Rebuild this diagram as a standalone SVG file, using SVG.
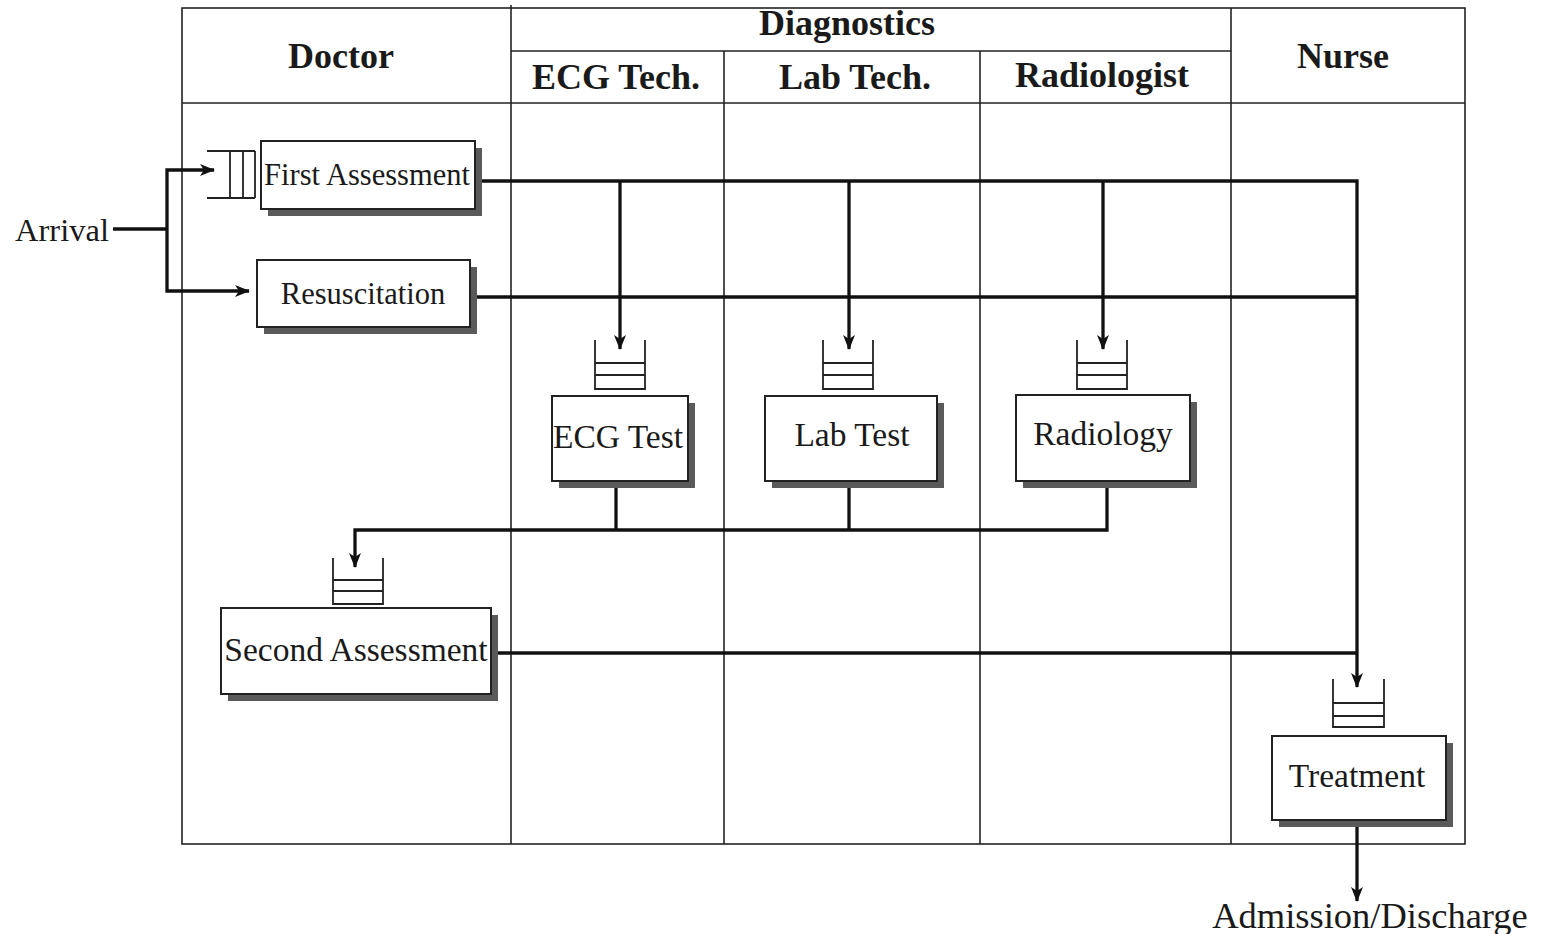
<svg xmlns="http://www.w3.org/2000/svg" width="1542" height="934" viewBox="0 0 1542 934">
<style>
.grid{stroke:#222;stroke-width:1.6;fill:none}
.hdr{font-family:"Liberation Serif",serif;font-weight:bold;font-size:36px;fill:#1a1a1a;text-anchor:middle}
.lbl{font-family:"Liberation Serif",serif;font-size:33.5px;fill:#1a1a1a;text-anchor:middle}
.sm{font-size:30.5px}
.box{fill:#fff;stroke:#222;stroke-width:2}
.shd{fill:#5a5a5a}
.q{stroke:#222;stroke-width:1.8;fill:none}
.c{stroke:#111;stroke-width:3.3;fill:none}
.ca{stroke:#111;stroke-width:3.3;fill:none;marker-end:url(#ah)}
</style>
<defs>
<marker id="ah" viewBox="0 0 15 12" refX="14" refY="6" markerWidth="15" markerHeight="12" markerUnits="userSpaceOnUse" orient="auto">
<path d="M0,0 L15,6 L0,12 L4,6 Z" fill="#111"/>
</marker>
</defs>
<rect width="1542" height="934" fill="#fff"/>
<g id="swimlanes">
<rect class="grid" x="182" y="8" width="1283" height="836"/>
<line class="grid" x1="182" y1="103" x2="1465" y2="103"/>
<line class="grid" x1="511" y1="51" x2="1231" y2="51"/>
<line class="grid" x1="511" y1="5" x2="511" y2="844"/>
<line class="grid" x1="724" y1="51" x2="724" y2="844"/>
<line class="grid" x1="980" y1="51" x2="980" y2="844"/>
<line class="grid" x1="1231" y1="8" x2="1231" y2="844"/>
<text class="hdr" x="341" y="68">Doctor</text>
<text class="hdr" x="847" y="35">Diagnostics</text>
<text class="hdr" x="616" y="89">ECG Tech.</text>
<text class="hdr" x="855" y="89">Lab Tech.</text>
<text class="hdr" x="1102" y="87">Radiologist</text>
<text class="hdr" x="1343" y="68">Nurse</text>
</g>
<g id="connectors">
<polyline class="c" points="113,229 167,229"/>
<polyline class="ca" points="167,229 167,170 214,170"/>
<polyline class="ca" points="167,229 167,291 249,291"/>
<polyline class="ca" points="475,181 1357,181 1357,687"/>
<polyline class="c" points="470,297 1357,297"/>
<polyline class="ca" points="620,181 620,349"/>
<polyline class="ca" points="849,181 849,349"/>
<polyline class="ca" points="1103,181 1103,349"/>
<polyline class="c" points="616,481 616,530"/>
<polyline class="c" points="849,481 849,530"/>
<polyline class="ca" points="1107,481 1107,530 355,530 355,567"/>
<polyline class="c" points="491,653 1357,653"/>
<polyline class="ca" points="1357,820 1357,901"/>
</g>
<g id="arrival"><text class="lbl" x="62" y="241" style="font-size:32.5px">Arrival</text></g>
<g id="queue-first">
<path class="q" d="M207,151 H255 M207,198 H255 M230,151 V198 M243,151 V198 M255,151 V198"/>
</g>
<g id="first-assessment">
<rect class="shd" x="268" y="148" width="214" height="68"/>
<rect class="box" x="261" y="141" width="214" height="68"/>
<text class="lbl sm" x="367" y="185">First Assessment</text>
</g>
<g id="resuscitation">
<rect class="shd" x="264" y="267" width="213" height="67"/>
<rect class="box" x="257" y="260" width="213" height="67"/>
<text class="lbl sm" x="363" y="304">Resuscitation</text>
</g>
<g id="queue-ecg"><path class="q" d="M595,340 V389 H645 V340 M595,363 H645 M595,375 H645"/></g>
<g id="ecg-test">
<rect class="shd" x="559" y="403" width="136" height="85"/>
<rect class="box" x="552" y="396" width="136" height="85"/>
<text class="lbl" x="618" y="448">ECG Test</text>
</g>
<g id="queue-lab"><path class="q" d="M823,340 V389 H873 V340 M823,363 H873 M823,375 H873"/></g>
<g id="lab-test">
<rect class="shd" x="772" y="403" width="172" height="85"/>
<rect class="box" x="765" y="396" width="172" height="85"/>
<text class="lbl" x="852" y="446">Lab Test</text>
</g>
<g id="queue-radiology"><path class="q" d="M1077,340 V389 H1127 V340 M1077,363 H1127 M1077,375 H1127"/></g>
<g id="radiology">
<rect class="shd" x="1023" y="402" width="174" height="86"/>
<rect class="box" x="1016" y="395" width="174" height="86"/>
<text class="lbl" x="1103" y="445">Radiology</text>
</g>
<g id="queue-second"><path class="q" d="M333,558 V604 H383 V558 M333,580 H383 M333,591 H383"/></g>
<g id="second-assessment">
<rect class="shd" x="228" y="615" width="270" height="86"/>
<rect class="box" x="221" y="608" width="270" height="86"/>
<text class="lbl" x="356" y="661">Second Assessment</text>
</g>
<g id="queue-treatment"><path class="q" d="M1333,679 V727 H1384 V679 M1333,703 H1384 M1333,716 H1384"/></g>
<g id="treatment">
<rect class="shd" x="1279" y="743" width="174" height="84"/>
<rect class="box" x="1272" y="736" width="174" height="84"/>
<text class="lbl" x="1357" y="787">Treatment</text>
</g>
<g id="admission"><text class="lbl" x="1370" y="928" style="font-size:36.5px">Admission/Discharge</text></g>
</svg>
